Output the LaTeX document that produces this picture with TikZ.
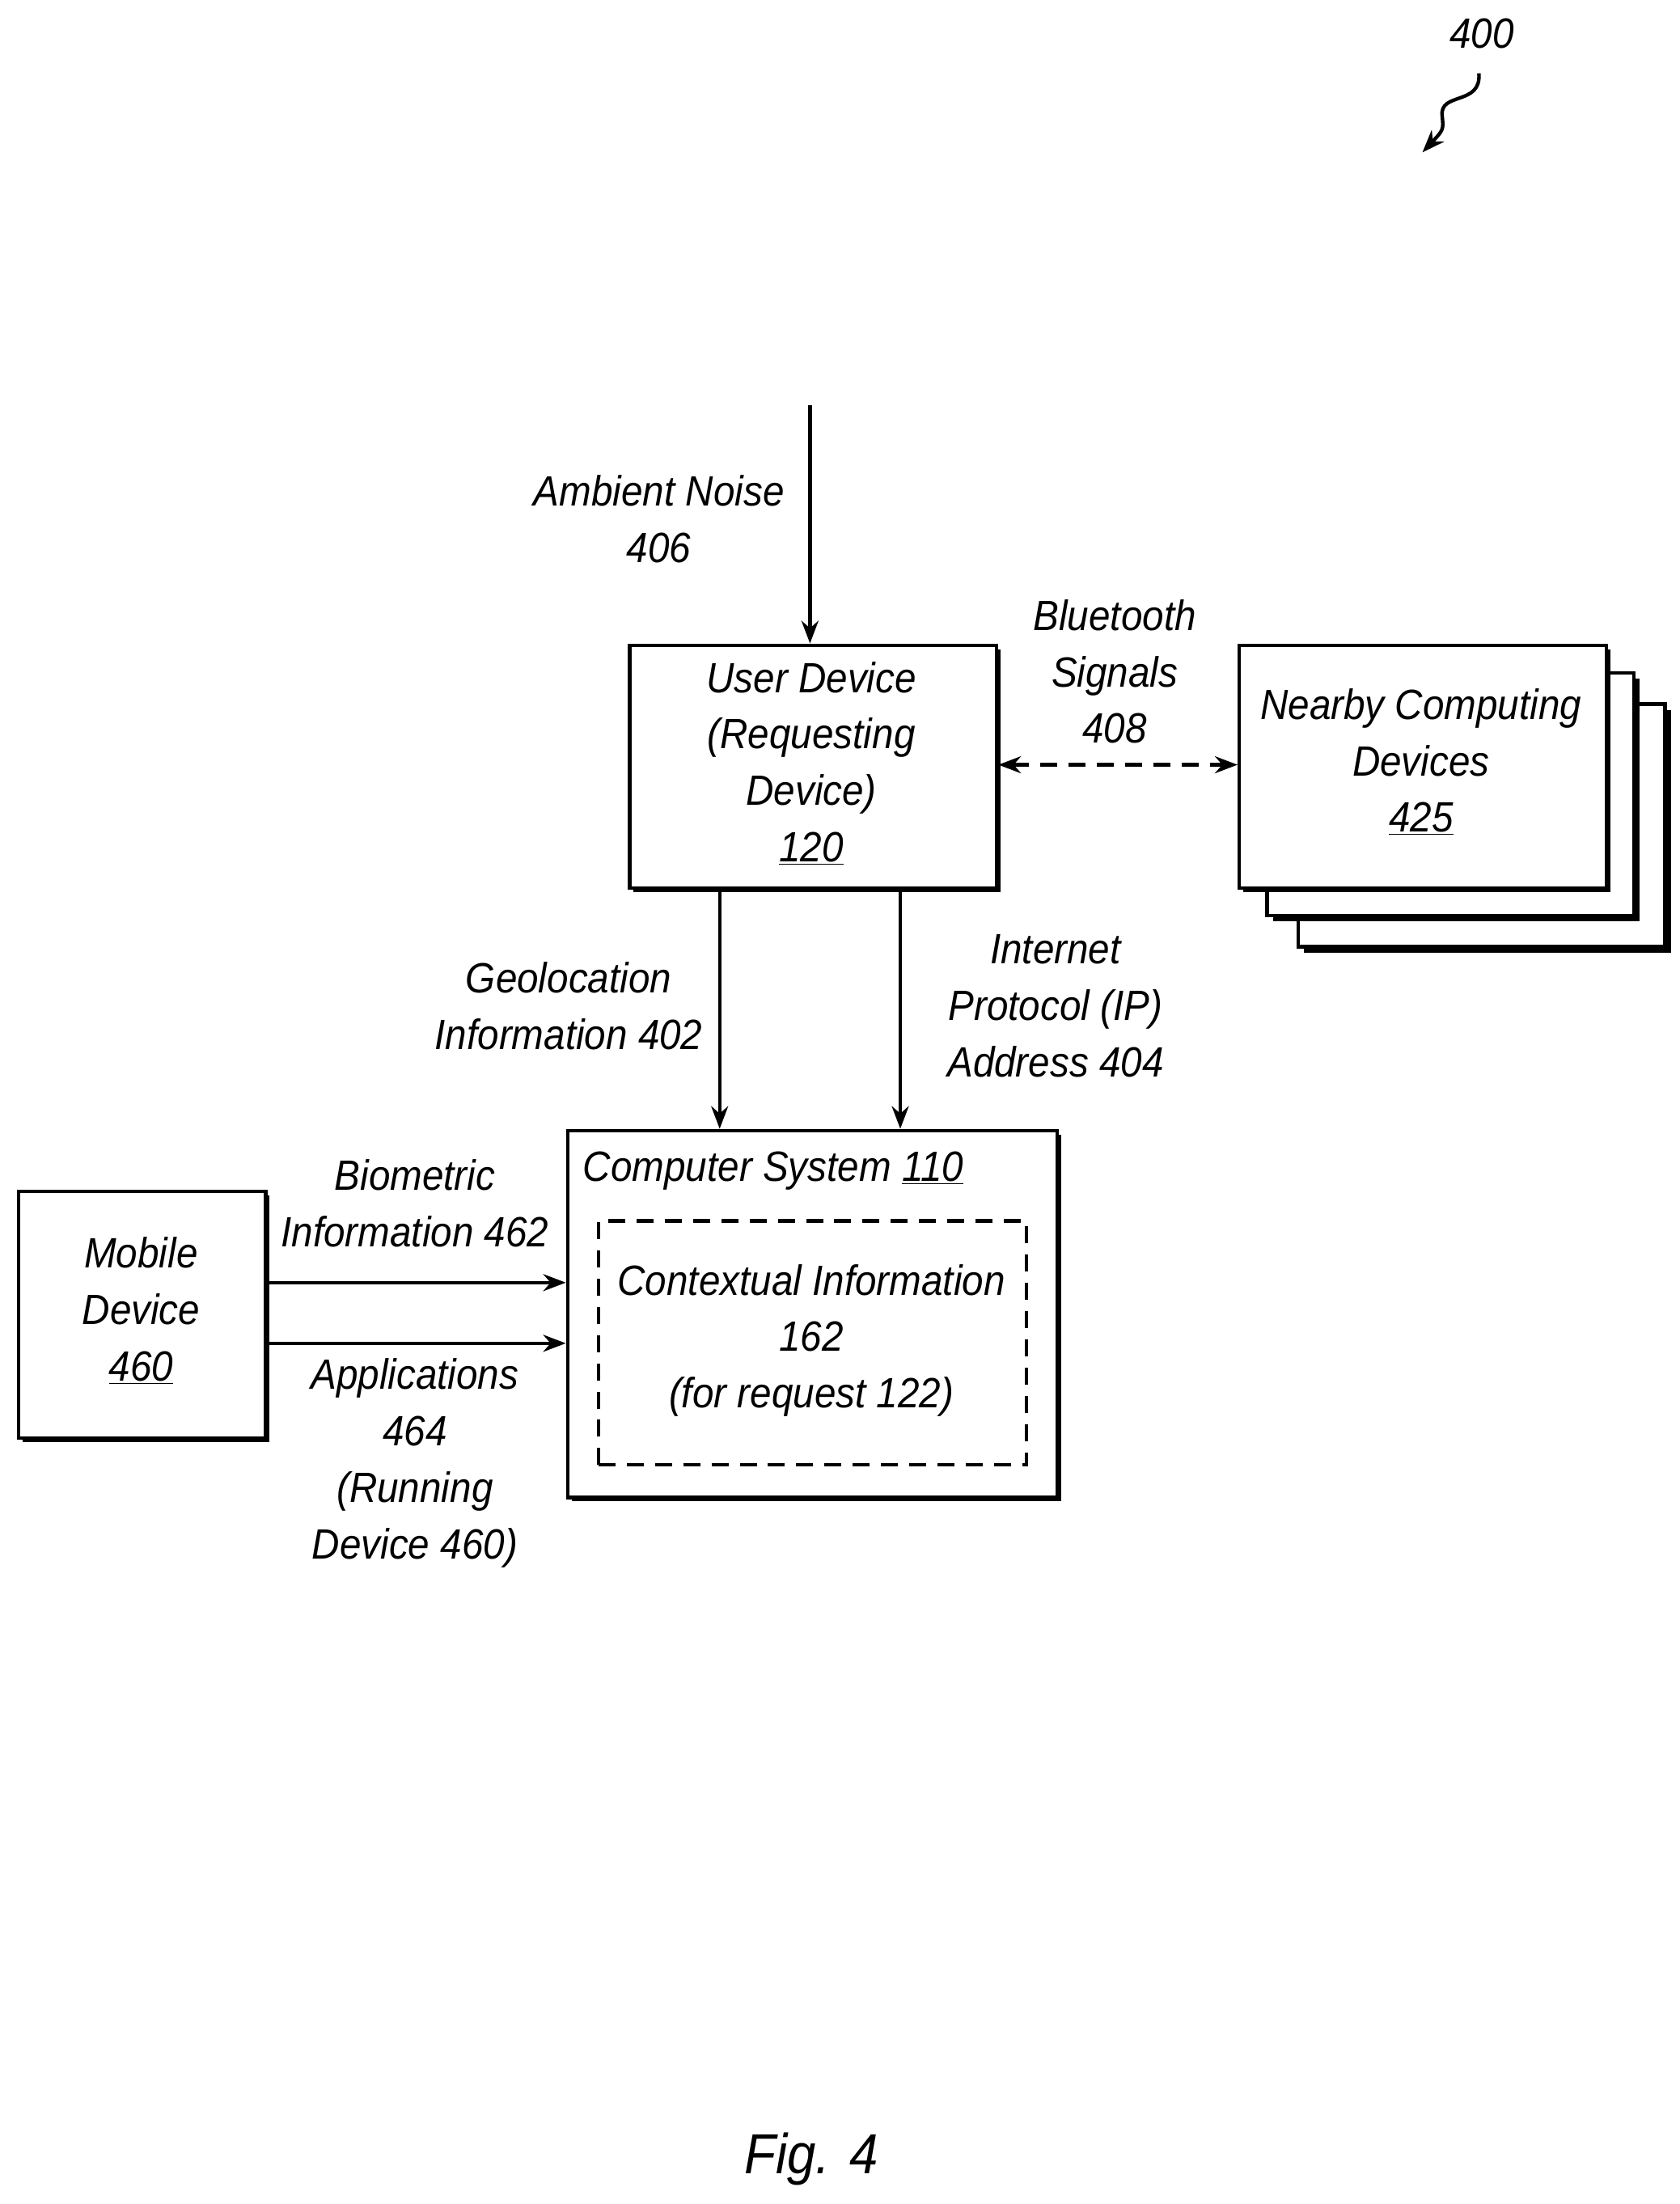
\documentclass[tikz,border=0pt]{standalone}
\usepackage{fontspec}
\setmainfont{Liberation Sans}[FakeStretch=0.91]
\usetikzlibrary{arrows.meta,decorations.pathmorphing}
\begin{document}
\begin{tikzpicture}[x=1pt,y=-1pt,
  txt/.style={font=\fontsize{30}{40}\selectfont\itshape,align=center,inner sep=0},
  box/.style={draw,line width=2.5pt,fill=white},
  arr/.style={line width=2.5pt,-{Stealth[length=16pt,width=12pt]}}]
\useasboundingbox[fill=white] (0,0) rectangle (1190,1562);
% user device
\fill (449,460) rectangle (709,632);
\node[box,minimum width=260pt,minimum height=172pt,anchor=north west] (ud) at (445,456) {};
\node[txt] (udt) at (575,541) {User Device\\(Requesting\\Device)\\\underline{120}};
% nearby stack
\foreach \d in {43,21}{
 \fill (877+\d+4,456+\d+4) rectangle (1137+\d+4,628+\d+4);
 \draw[box] (877+\d,456+\d) rectangle (1137+\d,628+\d);}
\fill (881,460) rectangle (1141,632);
\node[box,minimum width=260pt,minimum height=172pt,anchor=north west] (nb) at (877,456) {};
\node[txt] (nbt) at (1007,540) {Nearby Computing\\Devices\\\underline{425}};
% computer system
\fill (405,804) rectangle (752,1064);
\node[box,minimum width=347pt,minimum height=260pt,anchor=north west] (cs) at (401,800) {};
\node[txt,anchor=west] (cst) at (413,830) {Computer System \underline{110}};
\node[draw,line width=2.5pt,dash pattern=on 12pt off 8pt,minimum width=303pt,minimum height=173pt,anchor=north west] (ci) at (423,864) {};
\node[txt] (cit) at (575,950) {Contextual Information\\162\\(for request 122)};
% mobile
\fill (16,847) rectangle (191,1022);
\node[box,minimum width=175pt,minimum height=175pt,anchor=north west] (md) at (12,843) {};
\node[txt] (mdt) at (100,929) {Mobile\\Device\\\underline{460}};
% arrows
\coordinate (amb) at (574,287);
\draw[arr] (amb) -- (ud.north -| amb);
\node[txt] (ambl) at (467,368) {Ambient Noise\\406};
\draw[line width=2.5pt,dash pattern=on 12pt off 8pt,{Stealth[length=16pt,width=12pt]}-{Stealth[length=16pt,width=12pt]}] (ud.east |- 0,542) -- (nb.west |- 0,542);
\node[txt] (btl) at (790,476) {Bluetooth\\Signals\\408};
\draw[arr] (ud.south -| 510,0) -- (cs.north -| 510,0);
\node[txt] (geol) at (403,713) {Geolocation\\Information 402};
\draw[arr] (ud.south -| 638,0) -- (cs.north -| 638,0);
\node[txt] (ipl) at (748,713) {Internet\\Protocol (IP)\\Address 404};
\draw[arr] (md.east |- 0,909) -- (cs.west |- 0,909);
\node[txt] (biol) at (294,853) {Biometric\\Information 462};
\draw[arr] (md.east |- 0,952) -- (cs.west |- 0,952);
\node[txt] (appl) at (294,1037) {Applications\\464\\(Running\\Device 460)};
% ref label
\node[txt] (r400) at (1050,24) {400};
\coordinate (sq1) at (1048,52);
\coordinate (sq2) at (1008,108);
\draw[arr] (sq1) .. controls (1050,75) and (1020,65) .. (1022,82) .. controls (1023,92) .. (sq2);
\node[font=\fontsize{40}{48}\selectfont\itshape] (fig) at (575,1530) {Fig. 4};
\end{tikzpicture}
\end{document}
